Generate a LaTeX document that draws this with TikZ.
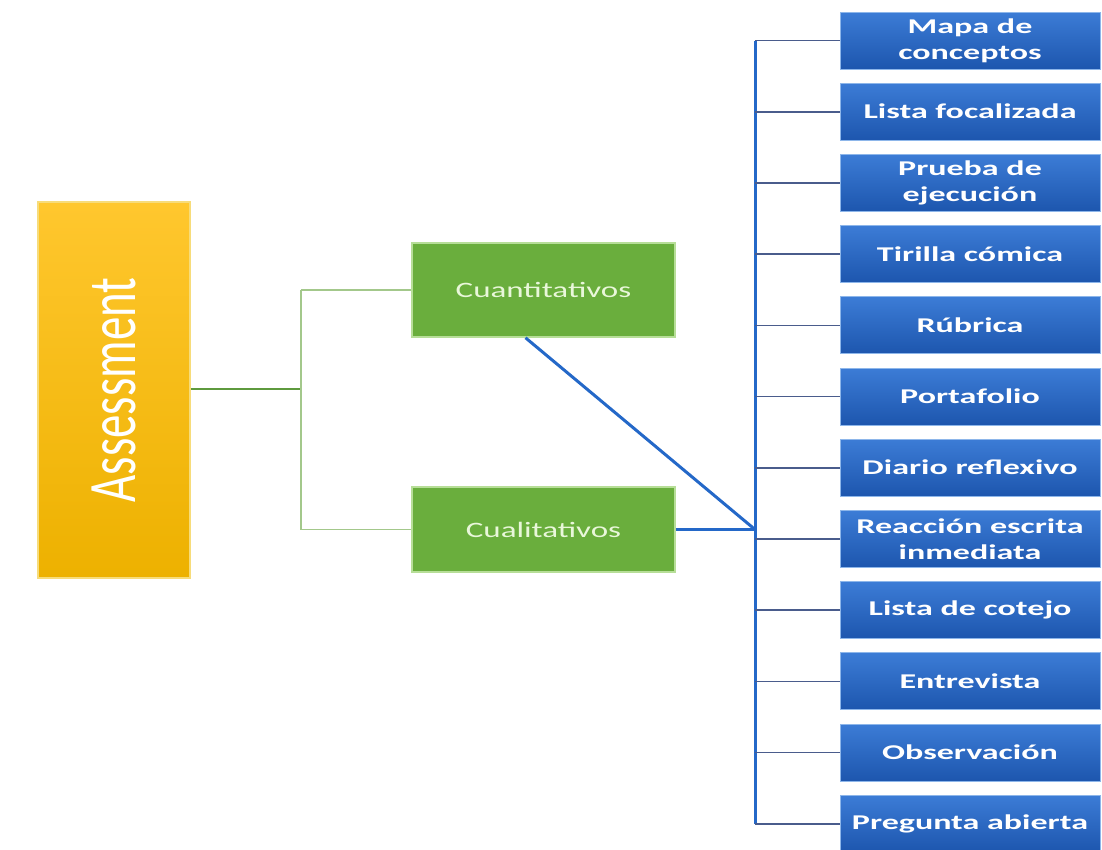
\documentclass[tikz,border=0pt]{standalone}
\usepackage{fontspec}
\setmainfont{Carlito}
\newfontfamily\wideface[FakeStretch=1.62]{Carlito}
\newfontfamily\midface[FakeStretch=1.5]{Carlito}
\newfontfamily\tallface[FakeStretch=0.69]{Carlito}
\definecolor{gold1}{HTML}{FFC72E}
\definecolor{gold2}{HTML}{EDB100}
\definecolor{goldedge}{HTML}{F7DC7A}
\definecolor{leaf}{HTML}{6AAE3D}
\definecolor{leafedge}{HTML}{B7DE98}
\definecolor{leaftext}{HTML}{E9F7DA}
\definecolor{sky1}{HTML}{3C7CD6}
\definecolor{sky2}{HTML}{1D56AE}
\definecolor{skyedge}{HTML}{8DB6EA}
\definecolor{trunk}{HTML}{5E9A3E}
\definecolor{twig}{HTML}{A3C88B}
\definecolor{bluewire}{HTML}{2468C8}
\definecolor{bluetwig}{HTML}{4A5C8C}
\tikzset{
  rootbox/.style={rectangle, minimum width=152pt, minimum height=376pt,
    top color=gold1, bottom color=gold2, draw=goldedge, line width=1.5pt,
    text=white, inner sep=0pt},
  groupbox/.style={rectangle, minimum width=263pt, inner sep=0pt,
    fill=leaf, draw=leafedge, line width=1.5pt, text=leaftext,
    font=\midface\fontsize{22}{24}\selectfont},
  itembox/.style={rectangle, minimum width=260pt, minimum height=57pt, inner sep=0pt,
    top color=sky1, bottom color=sky2, draw=skyedge, line width=1pt, text=white,
    align=center, font=\wideface\bfseries\fontsize{21}{26}\selectfont},
  trunkline/.style={draw=trunk, line width=1.8pt},
  twigline/.style={draw=twig, line width=1.6pt},
  bluemain/.style={draw=bluewire, line width=3pt},
  bluebranch/.style={draw=bluetwig, line width=1.6pt}
}
\begin{document}
\begin{tikzpicture}[x=1pt,y=-1pt]
\useasboundingbox (0,0) rectangle (1102,849);

% root
\node[rootbox] (root) at (114,390) {\rotatebox{90}{\tallface\fontsize{68}{70}\selectfont Assessment}};

% two groups
\node[groupbox, minimum height=94pt] (cuant) at (543.5,290) {Cuantitativos};
\node[groupbox, minimum height=85pt] (cual) at (543.5,529.5) {Cualitativos};

% list of instruments
\foreach \name/\txt [count=\i from 0] in {
  b0/{Mapa de\\conceptos},
  b1/{Lista focalizada},
  b2/{Prueba de\\ejecución},
  b3/{Tirilla cómica},
  b4/{Rúbrica},
  b5/{Portafolio},
  b6/{Diario reflexivo},
  b7/{Reacción escrita\\inmediata},
  b8/{Lista de cotejo},
  b9/{Entrevista},
  b10/{Observación},
  b11/{Pregunta abierta}}
  \node[itembox] (\name) at (970,{40.5+71.2*\i}) {\txt};

% green connectors
\coordinate (gj) at (301,389);
\draw[trunkline] (root.east |- gj) -- (gj);
\draw[twigline] (gj |- cuant.west) -- (gj |- cual.west);
\draw[twigline] (gj |- cuant.west) -- (cuant.west);
\draw[twigline] (gj |- cual.west) -- (cual.west);

% blue connectors
\coordinate (bj) at (755,529.5);
\draw[bluemain] (cual.east) -- (bj);
\draw[bluemain] ([xshift=-18pt]cuant.south) -- (bj);
\draw[bluemain] (bj |- b0.west) -- (bj |- b11.west);
\foreach \name in {b0,b1,b2,b3,b4,b5,b6,b7,b8,b9,b10,b11}
  \draw[bluebranch] (bj |- \name.west) -- (\name.west);
\end{tikzpicture}
\end{document}
